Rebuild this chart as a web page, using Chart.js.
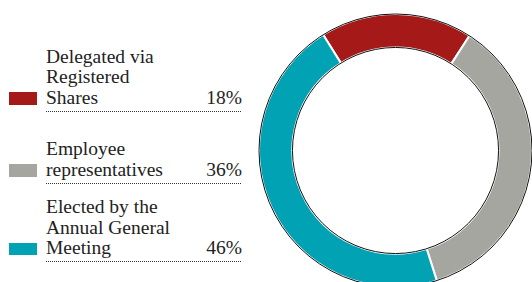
<!DOCTYPE html>
<html>
<head>
<meta charset="utf-8">
<script src="https://cdn.jsdelivr.net/npm/chart.js@4"></script>
<style>
  html, body { margin:0; padding:0; background:#fff; width:532px; height:282px; overflow:hidden; position:relative; }
  #wrap { position:absolute; left:257px; top:12px; width:277px; height:277px; }
  .lbl, .pct { position:absolute; font-family:"Liberation Serif", serif; font-size:19.5px; color:#222; line-height:20.5px; white-space:nowrap; }
  .sw { position:absolute; left:9px; width:28px; height:12.5px; }
  .dot { position:absolute; left:46px; width:195px; border-top:1px dotted #333; height:0; }
</style>
</head>
<body>
<div id="legend"></div>
<div id="wrap"><canvas id="c" width="277" height="277"></canvas></div>
<script>
const categories = [["Delegated via","Registered","Shares"],["Employee","representatives"],["Elected by the","Annual General","Meeting"]];
const values = [18, 36, 46];
const colors = ["#A51A19", "#A6A6A1", "#00A2B4"];
// baseline of first text line of each legend item
const legendFirstBaselines = [63.5, 156, 214];
const lineStep = 20.5;
const baselineInLine = 16.8;

const legend = document.getElementById('legend');
categories.forEach((lines, i) => {
  const first = legendFirstBaselines[i];
  const last = first + (lines.length - 1) * lineStep;
  const lbl = document.createElement('div');
  lbl.className = 'lbl';
  lbl.style.left = '46px';
  lbl.style.top = (first - baselineInLine) + 'px';
  lbl.innerHTML = lines.join('<br>');
  const pct = document.createElement('div');
  pct.className = 'pct';
  pct.style.right = (532 - 242) + 'px';
  pct.style.top = (last - baselineInLine) + 'px';
  pct.textContent = values[i] + '%';
  const sw = document.createElement('div');
  sw.className = 'sw';
  sw.style.background = colors[i];
  sw.style.top = (last - 12.5) + 'px';
  const dot = document.createElement('div');
  dot.className = 'dot';
  dot.style.top = (last + 6) + 'px';
  legend.append(lbl, pct, sw, dot);
});

const outline = {
  id: 'outline',
  afterDatasetsDraw(chart) {
    const arc = chart.getDatasetMeta(0).data[0];
    const ctx = chart.ctx;
    ctx.save();
    ctx.strokeStyle = '#111';
    ctx.lineWidth = 1;
    [arc.outerRadius, arc.innerRadius].forEach(r => {
      ctx.beginPath();
      ctx.arc(arc.x, arc.y, r, 0, Math.PI * 2);
      ctx.stroke();
    });
    ctx.restore();
  }
};

new Chart(document.getElementById('c'), {
  type: 'doughnut',
  data: {
    labels: categories.map(l => l.join(' ')),
    datasets: [{
      data: values,
      backgroundColor: colors,
      borderColor: '#ffffff',
      borderWidth: 2,
      hoverOffset: 0
    }]
  },
  options: {
    responsive: false,
    animation: false,
    cutout: '75.5%',
    rotation: -32,
    layout: { padding: 1 },
    plugins: { legend: { display: false }, tooltip: { enabled: false } }
  },
  plugins: [outline]
});
</script>
</body>
</html>
